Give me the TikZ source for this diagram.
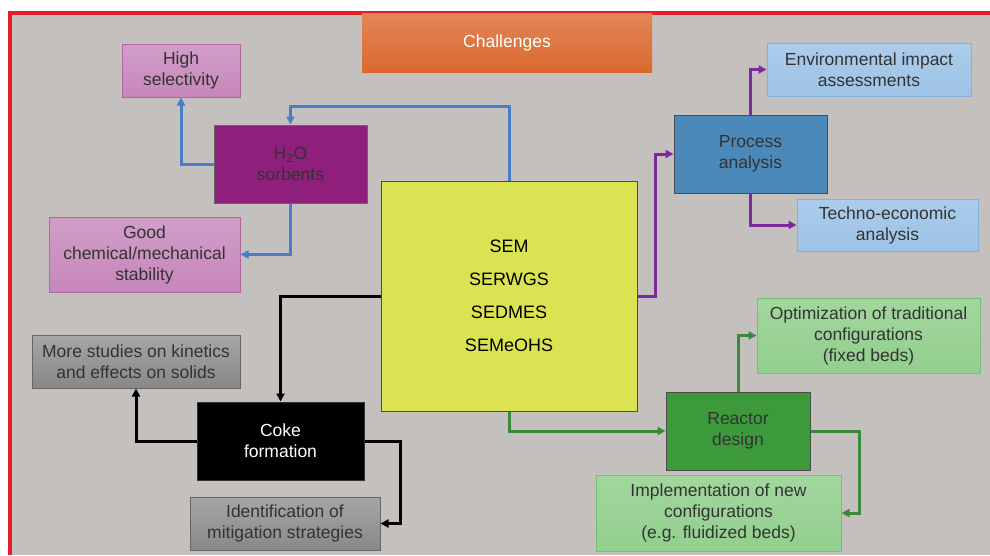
\documentclass[tikz,border=0pt]{standalone}
\usepackage{fontspec}
\setmainfont{Liberation Sans}
\usetikzlibrary{arrows.meta}

\definecolor{bggray}{RGB}{196, 192, 189}
\definecolor{framered}{RGB}{226, 30, 42}
\definecolor{orangebox}{RGB}{219, 104, 46}
\definecolor{pinkbox}{RGB}{198, 134, 186}
\definecolor{pinkline}{RGB}{181, 101, 165}
\definecolor{sorbpurple}{RGB}{142, 31, 122}
\definecolor{semyellow}{RGB}{220, 227, 82}
\definecolor{procblue}{RGB}{74, 137, 185}
\definecolor{lightblue}{RGB}{157, 195, 230}
\definecolor{lightblueline}{RGB}{130, 178, 222}
\definecolor{reacgreen}{RGB}{60, 154, 58}
\definecolor{lightgreen}{RGB}{146, 207, 141}
\definecolor{lightgreenline}{RGB}{118, 192, 112}
\definecolor{boxgray}{RGB}{136, 136, 136}
\definecolor{linkblue}{RGB}{74, 124, 199}
\definecolor{linkpurple}{RGB}{122, 42, 154}
\definecolor{linkgreen}{RGB}{59, 138, 59}

\begin{document}
\begin{tikzpicture}[x=1pt,y=-1pt,
		box/.style={draw, line width=1pt, align=center, inner sep=0pt,
			font=\fontsize{17.5}{21}\selectfont, text=black!80},
		pinkbox/.style={box, draw=pinkline, top color=pinkbox!80!white, bottom color=pinkbox},
		bluebox/.style={box, draw=lightblueline, top color=lightblue!85!white, bottom color=lightblue},
		greenbox/.style={box, draw=lightgreenline, top color=lightgreen!85!white, bottom color=lightgreen},
		graybox/.style={box, draw=black!60, top color=boxgray!75!white, bottom color=boxgray},
		link/.style={line width=3pt, -{Triangle[length=8pt,width=8pt]}}
	]
	\useasboundingbox (0,0) rectangle (990,555);
	% background and frame
	\fill[white] (0,0) rectangle (990,555);
	\fill[bggray] (10,13) rectangle (990,555);
	\draw[framered, line width=4pt] (10,555) -- (10,13) -- (990,13);

	\node[box, draw=none, top color=orangebox!80!white, bottom color=orangebox, text=white,
		minimum width=290, minimum height=59] (chal) at (507,42.5) {Challenges};

	\node[box, draw=black!70, fill=semyellow, minimum width=256, minimum height=230,
		text=black, font=\fontsize{18}{33}\selectfont] (sem) at (509,296)
		{SEM\\SERWGS\\SEDMES\\SEMeOHS};

	% sorbents branch
	\node[box, draw=black!60, fill=sorbpurple, minimum width=153, minimum height=78] (sorb) at (290.5,164) {H\textsubscript{2}O\\sorbents};
	\node[pinkbox, minimum width=118, minimum height=53] (high) at (181,70.5) {High\\selectivity};
	\node[pinkbox, minimum width=191, minimum height=75] (good) at (144.5,254.5) {Good\\chemical/mechanical\\stability};

	% process branch
	\node[box, draw=black!70, fill=procblue, minimum width=153, minimum height=78] (proc) at (750.5,154) {Process\\analysis};
	\node[bluebox, minimum width=204, minimum height=53] (env) at (869,69.5) {Environmental impact\\assessments};
	\node[bluebox, minimum width=181, minimum height=52] (tech) at (887.5,225) {Techno-economic\\analysis};

	% reactor branch
	\node[box, draw=black!70, fill=reacgreen, minimum width=144, minimum height=78] (reac) at (738,431) {Reactor\\design};
	\node[greenbox, minimum width=223, minimum height=75] (opt) at (868.5,335.5) {Optimization of traditional\\configurations\\(fixed beds)};
	\node[greenbox, minimum width=245, minimum height=76] (impl) at (718.5,513) {Implementation of new\\configurations\\(e.g. fluidized beds)};

	% coke branch
	\node[box, draw=black!80, fill=black, text=white, minimum width=167, minimum height=78] (coke) at (280.5,441) {Coke\\formation};
	\node[graybox, minimum width=208, minimum height=53] (more) at (136,361.5) {More studies on kinetics\\and effects on solids};
	\node[graybox, minimum width=190, minimum height=53] (ident) at (285,523.5) {Identification of\\mitigation strategies};

	\draw[link, linkblue] (sem.north) -- ++(0,-74) -| (sorb.north);
	\draw[link, linkblue] (sorb.west) -| (high.south);
	\draw[link, linkblue] (sorb.south) |- (good.east);

	\draw[link, linkpurple] (sem.east) -- ++(18,0) |- (proc.west);
	\draw[link, linkpurple] (proc.north) |- (env.west);
	\draw[link, linkpurple] (proc.south) |- (tech.west);

	\draw[link, linkgreen] (sem.south) |- (reac.west);
	\draw[link, linkgreen] (reac.north) |- (opt.west);
	\draw[link, linkgreen] (reac.east) -- ++(49,0) |- (impl.east);

	\draw[link, black] (sem.west) -| (coke.north);
	\draw[link, black] (coke.west) -| (more.south);
	\draw[link, black] (coke.east) -- ++(36,0) |- (ident.east);
\end{tikzpicture}
\end{document}
